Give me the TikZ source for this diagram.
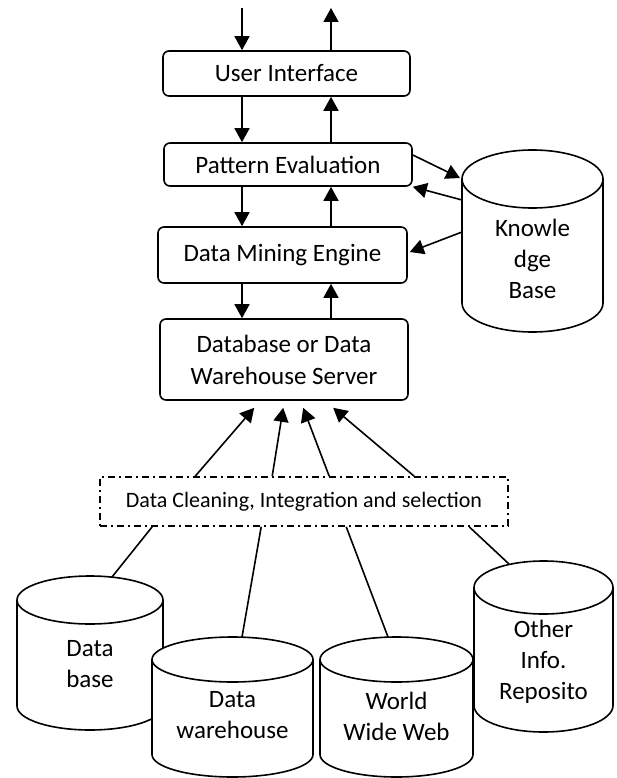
\documentclass[tikz,border=0pt]{standalone}
\usepackage{fontspec}
\setmainfont{Carlito}
\usetikzlibrary{arrows.meta,calc}

\newcommand{\drum}[2]{%
    \draw[line width=1.6pt, fill=white] let \p1=(#1.north west), \p2=(#1.south east), \n1={(\x2-\x1)/2} in
        (\x1,\y1-#2pt) -- (\x1,\y2+#2pt) arc[start angle=180, end angle=360, x radius=\n1, y radius=#2pt]
        -- (\x2,\y1-#2pt) arc[start angle=0, end angle=180, x radius=\n1, y radius=#2pt] -- cycle
        (\x1,\y1-#2pt) arc[start angle=180, end angle=360, x radius=\n1, y radius=#2pt];
}

\begin{document}
\begin{tikzpicture}[x=1pt,y=-1pt,
        box/.style={draw, rounded corners=6pt, line width=1.6pt, inner sep=0pt, align=center, font=\fontsize{25}{32}\selectfont},
        store/.style={inner sep=0pt, outer sep=0pt},
        cyltxt/.style={align=center, inner sep=0pt, font=\fontsize{25}{31}\selectfont},
        arr/.style={-{Triangle[length=14pt,width=15pt]}, line width=1.6pt},
        link/.style={line width=1.6pt}]
        \useasboundingbox (0,0) rectangle (616,778);

        \node[box, minimum width=247pt, minimum height=45pt] (ui) at (286.5, 73.5) {User Interface};
        \node[box, minimum width=248pt, minimum height=43pt] (pe) at (288, 164.5) {Pattern Evaluation};
        \node[box, minimum width=249pt, minimum height=56pt] (dme) at (282.5, 255) {Data Mining Engine};
        \node[box, minimum width=248pt, minimum height=81pt] (srv) at (284, 359.5) {Database or Data\\Warehouse Server};
        \node[draw, line width=1.6pt, dash pattern=on 7pt off 4pt on 2pt off 4pt, minimum width=408pt, minimum height=49pt, inner sep=0pt, font=\fontsize{22}{26}\selectfont] (clean) at (304, 501.5) {Data Cleaning, Integration and selection};

        \node[store, minimum width=141pt, minimum height=182pt] (kb) at (532.5, 241) {};
        \node[store, minimum width=146pt, minimum height=154pt] (db) at (90, 653) {};
        \node[store, minimum width=161pt, minimum height=140pt] (dw) at (232.5, 707) {};
        \node[store, minimum width=153pt, minimum height=140pt] (www) at (396.5, 707) {};
        \node[store, minimum width=139pt, minimum height=171pt] (oth) at (543.5, 646.5) {};

        \drum{kb}{29}
        \drum{db}{24}
        \drum{dw}{22.5}
        \drum{www}{22.5}
        \drum{oth}{26.5}

        \node[cyltxt] (kbtxt) at ($(kb)+(0,18)$) {Knowle\\dge\\Base};
        \node[cyltxt] (dbtxt) at ($(db)+(0,11.5)$) {Data\\base};
        \node[cyltxt] (dwtxt) at ($(dw)+(0,8)$) {Data\\warehouse};
        \node[cyltxt] (wwwtxt) at ($(www)+(0,9.5)$) {World\\Wide Web};
        \node[cyltxt] (othtxt) at ($(oth)+(0,15.5)$) {Other\\Info.\\Reposito};

        \coordinate (in) at (242, 8);
        \coordinate (out) at (331, 8);

        \draw[arr] (in) -- (ui.north -| in);
        \draw[arr] (ui.north -| out) -- (out);
        \draw[arr] (ui.south -| in) -- (pe.north -| in);
        \draw[arr] (pe.north -| out) -- (ui.south -| out);
        \draw[arr] (pe.south -| in) -- (dme.north -| in);
        \draw[arr] (dme.north -| out) -- (pe.south -| out);
        \draw[arr] (dme.south -| in) -- (srv.north -| in);
        \draw[arr] (srv.north -| out) -- (dme.south -| out);

        \draw[arr] ($(pe.east)+(0,-9.5)$) -- ($(kb.west)+(-2,-63)$);
        \draw[arr] ($(kb.west)+(0,-41)$) -- (pe.south east);
        \draw[arr] ($(kb.west)+(0,-9)$) -- ($(dme.east)+(2,-3)$);

        \draw[arr] ($(clean.north west)+(96,0)$) -- ($(srv.south west)+(95,7)$);
        \draw[arr] ($(clean.north west)+(173,0)$) -- ($(srv.south west)+(124,7)$);
        \draw[arr] ($(clean.north west)+(230,0)$) -- ($(srv.south west)+(144,7)$);
        \draw[arr] ($(clean.north west)+(315,0)$) -- ($(srv.south west)+(174,7)$);

        \draw[link] ($(clean.south west)+(53,0)$) -- ($(db.north)+(22,1)$);
        \draw[link] ($(clean.south west)+(162,0)$) -- ($(dw.north)+(9.5,0)$);
        \draw[link] ($(clean.south west)+(247,0)$) -- ($(www.north)+(-8.5,0)$);
        \draw[link] ($(clean.south west)+(370,0)$) -- ($(oth.north)+(-34.5,3)$);

    \end{tikzpicture}
\end{document}
